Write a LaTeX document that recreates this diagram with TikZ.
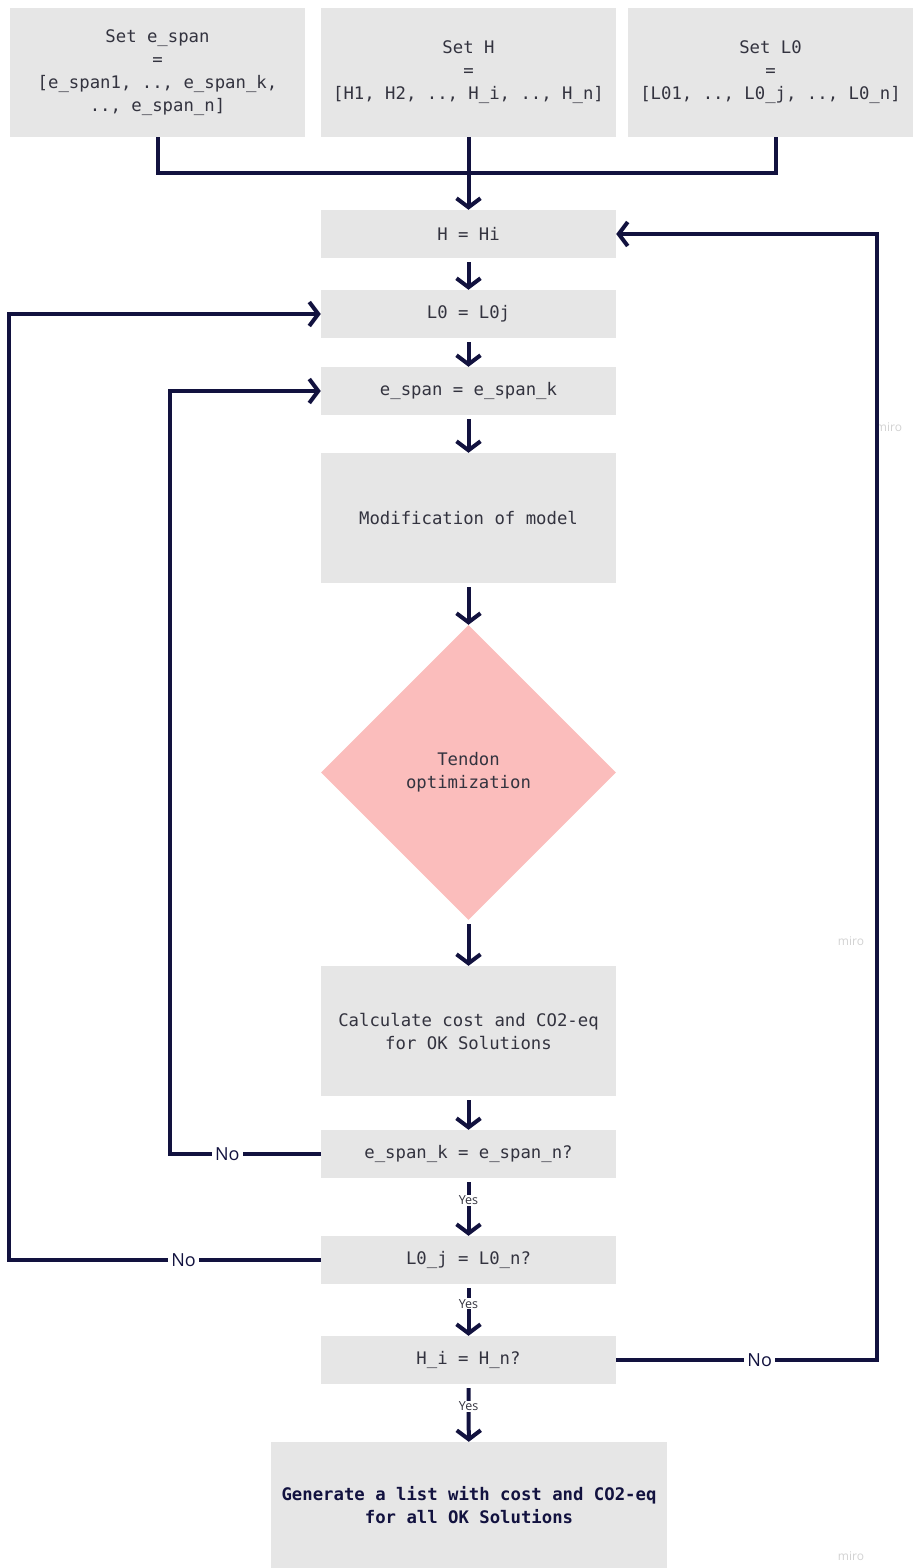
\documentclass[tikz,border=0pt]{standalone}
\usepackage{fontspec}
\setmonofont{DejaVu Sans Mono}
\setsansfont{Open Sans}
\usetikzlibrary{arrows.meta,shapes.geometric}
\definecolor{boxgray}{HTML}{E6E6E6}
\definecolor{pinkd}{HTML}{FBBDBC}
\definecolor{navy}{HTML}{12123F}
\definecolor{txt}{HTML}{33333F}
\begin{document}
\begin{tikzpicture}[x=1pt,y=-1pt,
  box/.style={fill=boxgray, draw=none, minimum width=295pt, minimum height=48pt, inner sep=0pt, align=center, text=txt, font=\fontsize{17.3}{23}\ttfamily},
  flow/.style={draw=navy, line width=4pt, -{Straight Barb[length=9pt,width=24pt]}, shorten <=4pt},
  link/.style={draw=navy, line width=4pt},
  nolab/.style={fill=white, inner sep=3pt, text=navy, font=\fontsize{18}{20}\sffamily},
  yeslab/.style={fill=white, inner sep=1pt, text=txt, font=\fontsize{12.5}{13}\sffamily},
  wm/.style={text=gray!35, font=\fontsize{12}{13}\sffamily}]
\useasboundingbox (0,0) rectangle (913,1568);

% watermarks
\node[wm] at (889,427) {miro};
\node[wm] at (851,941) {miro};
\node[wm] at (851,1556) {miro};

% top boxes
\node[box, minimum width=295pt, minimum height=129pt] (b1) at (157.5,72.5) {Set e\_span\\=\\{}[e\_span1, .., e\_span\_k,\\.., e\_span\_n]};
\node[box, minimum width=295pt, minimum height=129pt] (b2) at (468.5,72.5) {Set H\\=\\{}[H1, H2, .., H\_i, .., H\_n]};
\node[box, minimum width=285pt, minimum height=129pt] (b3) at (770.5,72.5) {Set L0\\=\\{}[L01, .., L0\_j, .., L0\_n]};

% main column
\node[box] (hhi) at (468.5,234) {H = Hi};
\node[box] (l0) at (468.5,314) {L0 = L0j};
\node[box] (esp) at (468.5,391) {e\_span = e\_span\_k};
\node[box, minimum height=130pt] (mod) at (468.5,518) {Modification of model};
\node[diamond, fill=pinkd, minimum width=295pt, minimum height=295pt, inner sep=0pt, align=center, text=txt, font=\fontsize{17.3}{23}\ttfamily] (dia) at (468.5,772.5) {Tendon\\optimization};
\node[box, minimum height=130pt] (calc) at (468.5,1031) {Calculate cost and CO2-eq\\for OK Solutions};
\node[box] (q1) at (468.5,1154) {e\_span\_k = e\_span\_n?};
\node[box] (q2) at (468.5,1260) {L0\_j = L0\_n?};
\node[box] (q3) at (468.5,1360) {H\_i = H\_n?};
\node[box, minimum width=396pt, minimum height=126pt, text=navy, font=\fontsize{17.3}{23}\ttfamily\bfseries] (gen) at (469,1505) {Generate a list with cost and CO2-eq\\for all OK Solutions};

% top merge
\coordinate (j) at (468.5,173);
\coordinate (b3x) at (776,0);
\draw[link, line join=miter] (b1.south) |- (j) -| (b3.south -| b3x);
\draw[flow, shorten <=0pt] (b2.south) -- (hhi.north);

% main flow
\draw[flow] (hhi) -- (l0);
\draw[flow] (l0) -- (esp);
\draw[flow] (esp) -- (mod);
\draw[flow] (mod) -- (dia);
\draw[flow] (dia) -- (calc);
\draw[flow] (calc) -- (q1);
\draw[flow] (q1) -- node[yeslab, pos=0.38]{Yes} (q2);
\draw[flow] (q2) -- node[yeslab, pos=0.38]{Yes} (q3);
\draw[flow] (q3) -- node[yeslab, pos=0.38]{Yes} (gen);

% loops
\coordinate (xa) at (170,0);
\coordinate (xb) at (9,0);
\coordinate (xc) at (877,0);
\draw[flow, shorten <=0pt, line join=miter] (q1.west) -- node[nolab, pos=0.62]{No} (q1.west -| xa) |- (esp.west);
\draw[flow, shorten <=0pt, line join=miter] (q2.west) -- node[nolab, pos=0.44]{No} (q2.west -| xb) |- (l0.west);
\draw[flow, shorten <=0pt, line join=miter] (q3.east) -- node[nolab, pos=0.55]{No} (q3.east -| xc) |- (hhi.east);
\end{tikzpicture}
\end{document}
